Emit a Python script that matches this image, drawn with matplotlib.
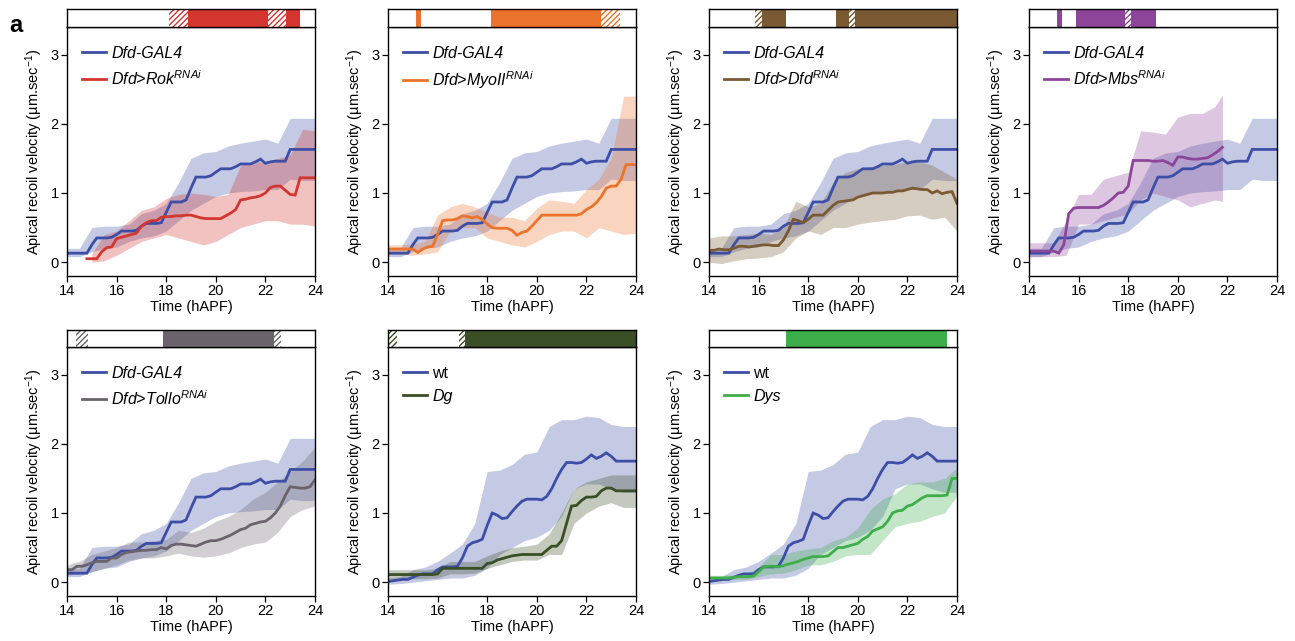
import numpy as np
import matplotlib
matplotlib.use("Agg")
import matplotlib.pyplot as plt
from matplotlib.patches import Rectangle

plt.rcParams['font.family'] = ['Liberation Sans', 'DejaVu Sans']
plt.rcParams['mathtext.fontset'] = 'custom'
plt.rcParams['mathtext.rm'] = 'Liberation Sans'
plt.rcParams['mathtext.it'] = 'Liberation Sans:italic'
plt.rcParams['hatch.linewidth'] = 1.0

# ---------------- data ----------------
# mean curves sampled every 0.2 h; bands sampled every 0.5 h
T_MEAN = np.round(np.arange(14.0, 24.01, 0.2), 1)
T_BAND = np.round(np.arange(14.0, 24.01, 0.5), 1)

ctrl_mean = [0.13, 0.13, 0.13, 0.13, 0.13, 0.25, 0.35, 0.35, 0.35, 0.36,
             0.40, 0.45, 0.45, 0.45, 0.46, 0.52, 0.56, 0.56, 0.56, 0.57,
             0.72, 0.87, 0.87, 0.87, 0.90, 1.07, 1.23, 1.23, 1.23, 1.25,
             1.30, 1.35, 1.35, 1.35, 1.38, 1.42, 1.42, 1.42, 1.45, 1.49,
             1.43, 1.45, 1.46, 1.46, 1.46, 1.63, 1.63, 1.63, 1.63, 1.63,
             1.63]
ctrl_lo = [0.08, 0.08, 0.15, 0.20, 0.22, 0.30, 0.35, 0.38, 0.45, 0.60, 0.75,
           0.85, 0.95, 1.00, 1.02, 1.03, 1.05, 1.05, 1.20, 1.18, 1.18]
ctrl_hi = [0.20, 0.20, 0.50, 0.52, 0.52, 0.55, 0.70, 0.75, 0.85, 1.15, 1.50,
           1.58, 1.60, 1.68, 1.72, 1.75, 1.78, 1.72, 2.08, 2.08, 2.08]

rok_t = np.round(np.arange(14.8, 24.01, 0.2), 1)
rok_mean = [0.05, 0.05, 0.05, 0.15, 0.21, 0.22,
            0.34, 0.36, 0.38, 0.40, 0.42, 0.52, 0.57, 0.60, 0.60, 0.65,
            0.66, 0.66, 0.67, 0.67, 0.68, 0.68, 0.66, 0.64, 0.63, 0.63,
            0.63, 0.63, 0.67, 0.71, 0.76, 0.90, 0.91, 0.93, 0.94, 0.96,
            1.00, 1.08, 1.10, 1.10, 1.04, 0.98, 0.97, 1.22, 1.22, 1.22,
            1.22]
rok_band_t = np.round(np.arange(15.0, 24.01, 0.5), 1)
rok_lo = [0.00, 0.02, 0.10, 0.20, 0.30, 0.35, 0.40, 0.35, 0.30, 0.25,
          0.30, 0.40, 0.50, 0.55, 0.60, 0.60, 0.55, 0.55, 0.52]
rok_hi = [0.12, 0.40, 0.45, 0.60, 0.75, 0.80, 0.92, 0.98, 1.00, 0.98,
          0.95, 0.98, 1.40, 1.45, 1.45, 1.50, 1.55, 1.92, 1.90]

myo_mean = [0.19, 0.19, 0.19, 0.19, 0.19, 0.19, 0.14, 0.19, 0.22, 0.23,
            0.40, 0.60, 0.61, 0.61, 0.63, 0.67, 0.66, 0.64, 0.66, 0.62,
            0.55, 0.50, 0.49, 0.49, 0.49, 0.46, 0.39, 0.43, 0.45, 0.52,
            0.60, 0.68, 0.68, 0.68, 0.68, 0.68, 0.68, 0.68, 0.68, 0.70,
            0.76, 0.80, 0.86, 0.95, 1.07, 1.10, 1.10, 1.20, 1.41, 1.41,
            1.41]
myo_lo = [0.12, 0.12, 0.10, 0.12, 0.15, 0.45, 0.50, 0.50, 0.35, 0.30, 0.25,
          0.22, 0.30, 0.40, 0.45, 0.45, 0.35, 0.50, 0.45, 0.40, 0.42]
myo_hi = [0.25, 0.25, 0.26, 0.30, 0.68, 0.80, 0.85, 0.80, 0.72, 0.65, 0.65,
          0.60, 0.78, 0.90, 0.88, 0.85, 1.05, 1.20, 1.50, 2.40, 2.40]

dfd_mean = [0.17, 0.17, 0.19, 0.18, 0.18, 0.20, 0.23, 0.23, 0.22, 0.23,
            0.24, 0.25, 0.25, 0.24, 0.24, 0.32, 0.45, 0.62, 0.60, 0.57,
            0.62, 0.68, 0.68, 0.68, 0.75, 0.82, 0.87, 0.88, 0.89, 0.90,
            0.94, 0.96, 0.98, 1.00, 1.00, 1.00, 1.01, 1.01, 1.03, 1.03,
            1.05, 1.07, 1.06, 1.05, 1.05, 1.00, 1.03, 0.99, 1.01, 1.02,
            0.85]
dfd_lo = [0.00, -0.02, 0.02, 0.05, 0.06, 0.08, 0.15, 0.35, 0.45, 0.40, 0.50,
          0.50, 0.55, 0.58, 0.60, 0.62, 0.67, 0.68, 0.62, 0.65, 0.45]
dfd_hi = [0.35, 0.38, 0.38, 0.40, 0.42, 0.40, 0.50, 0.88, 0.80, 0.85, 1.15,
          1.30, 1.35, 1.38, 1.40, 1.42, 1.45, 1.45, 1.40, 1.30, 1.20]

mbs_t = np.round(np.arange(14.0, 21.81, 0.2), 1)
mbs_mean = [0.16, 0.16, 0.16, 0.16, 0.16, 0.16, 0.13, 0.25, 0.70, 0.78,
            0.79, 0.79, 0.79, 0.79, 0.79, 0.82, 0.87, 0.93, 1.00, 1.01,
            1.10, 1.47, 1.47, 1.47, 1.47, 1.46, 1.46, 1.47, 1.44, 1.40,
            1.52, 1.52, 1.50, 1.49, 1.49, 1.50, 1.51, 1.55, 1.60, 1.66]
mbs_band_t = [14.0, 14.5, 15.0, 15.5, 16.0, 16.5, 17.0, 17.5, 18.0, 18.5,
              19.0, 19.5, 20.0, 20.5, 21.0, 21.5, 21.8]
mbs_lo = [0.08, 0.08, 0.08, 0.10, 0.55, 0.55, 0.60, 0.65, 0.70, 0.90,
          1.00, 0.95, 0.90, 0.80, 0.85, 0.90, 0.88]
mbs_hi = [0.28, 0.28, 0.28, 0.60, 0.98, 0.98, 1.20, 1.25, 1.30, 1.90,
          1.88, 1.85, 2.10, 2.15, 2.15, 2.25, 2.42]

tollo_mean = [0.18, 0.18, 0.23, 0.23, 0.25, 0.28, 0.30, 0.30, 0.30, 0.35,
              0.35, 0.40, 0.43, 0.44, 0.45, 0.46, 0.46, 0.47, 0.47, 0.50,
              0.48, 0.53, 0.55, 0.55, 0.54, 0.53, 0.52, 0.55, 0.58, 0.60,
              0.60, 0.62, 0.65, 0.68, 0.72, 0.76, 0.78, 0.83, 0.85, 0.87,
              0.88, 0.93, 1.00, 1.10, 1.25, 1.38, 1.37, 1.36, 1.36, 1.38,
              1.48]
tollo_lo = [0.10, 0.12, 0.15, 0.20, 0.25, 0.32, 0.35, 0.35, 0.38, 0.42, 0.38,
            0.36, 0.38, 0.42, 0.50, 0.55, 0.58, 0.72, 0.95, 1.05, 1.10]
tollo_hi = [0.25, 0.30, 0.40, 0.45, 0.50, 0.58, 0.58, 0.60, 0.62, 0.75, 0.72,
            0.78, 0.88, 0.95, 1.05, 1.20, 1.30, 1.45, 1.60, 1.75, 1.95]

wt_mean = [0.01, 0.02, 0.03, 0.04, 0.04, 0.07, 0.10, 0.12, 0.12, 0.12,
           0.18, 0.22, 0.22, 0.22, 0.23, 0.35, 0.52, 0.57, 0.59, 0.62,
           0.82, 1.00, 0.97, 0.92, 0.93, 1.02, 1.10, 1.17, 1.20, 1.20,
           1.20, 1.19, 1.24, 1.35, 1.50, 1.63, 1.73, 1.73, 1.72, 1.73,
           1.78, 1.84, 1.79, 1.82, 1.87, 1.82, 1.75, 1.75, 1.75, 1.75,
           1.75]
wt_lo = [-0.03, -0.02, 0.00, 0.02, 0.04, 0.06, 0.06, 0.10, 0.20, 0.40, 0.50,
         0.60, 0.65, 0.75, 0.95, 1.35, 1.42, 1.42, 1.35, 1.30, 1.30]
wt_hi = [0.06, 0.08, 0.18, 0.22, 0.30, 0.42, 0.55, 0.85, 1.60, 1.62, 1.70,
         1.85, 1.88, 2.25, 2.35, 2.35, 2.40, 2.38, 2.28, 2.25, 2.25]

dg_mean = [0.11, 0.11, 0.11, 0.11, 0.11, 0.11, 0.11, 0.11, 0.11, 0.11,
           0.12, 0.20, 0.20, 0.20, 0.20, 0.20, 0.20, 0.20, 0.20, 0.20,
           0.27, 0.28, 0.32, 0.34, 0.36, 0.38, 0.39, 0.40, 0.40, 0.40,
           0.40, 0.40, 0.46, 0.52, 0.52, 0.60, 0.85, 1.10, 1.11, 1.18,
           1.23, 1.23, 1.24, 1.32, 1.36, 1.36, 1.32, 1.32, 1.32, 1.32,
           1.32]
dg_lo = [0.04, 0.04, 0.05, 0.05, 0.06, 0.12, 0.12, 0.13, 0.20, 0.25, 0.30,
         0.32, 0.32, 0.40, 0.40, 0.85, 1.00, 1.10, 1.15, 1.08, 1.08]
dg_hi = [0.18, 0.18, 0.18, 0.18, 0.20, 0.30, 0.30, 0.30, 0.38, 0.45, 0.50,
         0.52, 0.55, 0.70, 1.00, 1.35, 1.45, 1.50, 1.55, 1.55, 1.55]

dys_mean = [0.06, 0.06, 0.06, 0.06, 0.06, 0.07, 0.08, 0.08, 0.08, 0.09,
            0.15, 0.22, 0.23, 0.23, 0.22, 0.24, 0.26, 0.28, 0.30, 0.33,
            0.35, 0.37, 0.37, 0.37, 0.38, 0.44, 0.50, 0.50, 0.52, 0.54,
            0.56, 0.62, 0.66, 0.74, 0.77, 0.80, 0.88, 1.00, 1.03, 1.04,
            1.10, 1.12, 1.17, 1.22, 1.25, 1.25, 1.25, 1.25, 1.26, 1.50,
            1.50]
dys_lo = [0.03, 0.03, 0.04, 0.04, 0.08, 0.12, 0.13, 0.18, 0.25, 0.25, 0.30,
          0.38, 0.40, 0.40, 0.60, 0.80, 0.85, 0.88, 0.95, 1.00, 1.25]
dys_hi = [0.10, 0.10, 0.10, 0.12, 0.22, 0.40, 0.40, 0.45, 0.48, 0.50, 0.60,
          0.65, 0.78, 1.05, 1.20, 1.28, 1.42, 1.45, 1.45, 1.50, 1.65]

# significance strips: (start, end, hatched)
rok_strip = [(18.12, 18.88, True), (18.88, 22.12, False), (22.12, 22.85, True), (22.85, 23.38, False)]
myo_strip = [(15.11, 15.35, False), (18.14, 22.6, False), (22.6, 23.35, True)]
dfd_strip = [(15.85, 16.14, True), (16.14, 17.12, False), (19.11, 19.63, False),
             (19.63, 19.9, True), (19.9, 24.0, False)]
mbs_strip = [(15.11, 15.35, False), (15.88, 17.86, False), (17.86, 18.13, True), (18.13, 19.11, False)]
tollo_strip = [(14.36, 14.86, True), (17.87, 22.33, False), (22.33, 22.62, True)]
dg_strip = [(14.0, 14.35, True), (16.86, 17.12, True), (17.12, 24.0, False)]
dys_strip = [(17.1, 23.6, False)]

BLUE = '#3D4EA6'

ctrl = dict(t=T_MEAN, mean=ctrl_mean, bt=T_BAND, lo=ctrl_lo, hi=ctrl_hi,
            color=BLUE, label='Dfd-GAL4', italic=True)
wt = dict(t=T_MEAN, mean=wt_mean, bt=T_BAND, lo=wt_lo, hi=wt_hi,
          color=BLUE, label='wt', italic=False)

panels = [
    (ctrl, dict(t=rok_t, mean=rok_mean, bt=rok_band_t, lo=rok_lo, hi=rok_hi,
                color='#D3362F', label='Dfd>Rok$^{RNAi}$', italic=True), rok_strip),
    (ctrl, dict(t=T_MEAN, mean=myo_mean, bt=T_BAND, lo=myo_lo, hi=myo_hi,
                color='#EC732B', label='Dfd>MyoII$^{RNAi}$', italic=True), myo_strip),
    (ctrl, dict(t=T_MEAN, mean=dfd_mean, bt=T_BAND, lo=dfd_lo, hi=dfd_hi,
                color='#7A5A33', label='Dfd>Dfd$^{RNAi}$', italic=True), dfd_strip),
    (ctrl, dict(t=mbs_t, mean=mbs_mean, bt=mbs_band_t, lo=mbs_lo, hi=mbs_hi,
                color='#8D4599', label='Dfd>Mbs$^{RNAi}$', italic=True), mbs_strip),
    (ctrl, dict(t=T_MEAN, mean=tollo_mean, bt=T_BAND, lo=tollo_lo, hi=tollo_hi,
                color='#6A636B', label='Dfd>Tollo$^{RNAi}$', italic=True), tollo_strip),
    (wt, dict(t=T_MEAN, mean=dg_mean, bt=T_BAND, lo=dg_lo, hi=dg_hi,
              color='#3A4F25', label='Dg', italic=True), dg_strip),
    (wt, dict(t=T_MEAN, mean=dys_mean, bt=T_BAND, lo=dys_lo, hi=dys_hi,
              color='#3DAE4A', label='Dys', italic=True), dys_strip),
]

# ---------------- layout ----------------
W, H = 1295, 641
fig = plt.figure(figsize=(W / 100, H / 100), dpi=100)

col_left = [67, 388, 709, 1029]
ax_w = 248
rows = [(27, 276, 9), (347, 596, 330)]  # (axes top, axes bottom, strip top) in px


def px_rect(x0, top, w, bottom):
    return [x0 / W, 1 - bottom / H, w / W, (bottom - top) / H]


for i, (base, test, strip) in enumerate(panels):
    r, c = divmod(i, 4)
    top, bottom, stop = rows[r]
    ax = fig.add_axes(px_rect(col_left[c], top, ax_w, bottom))
    sax = fig.add_axes(px_rect(col_left[c], stop, ax_w, top))

    for s in (base, test):
        ax.fill_between(s['bt'], s['lo'], s['hi'], color=s['color'],
                        alpha=0.3, linewidth=0)
    for s in (base, test):
        ax.plot(s['t'], s['mean'], color=s['color'], lw=2.0,
                label=s['label'], solid_joinstyle='miter')

    ax.set_xlim(14, 24)
    ax.set_ylim(-0.2, 3.4)
    ax.set_xticks([14, 16, 18, 20, 22, 24])
    ax.set_yticks([0, 1, 2, 3])
    ax.tick_params(direction='out', length=4, width=0.9, labelsize=10.5, pad=2)
    for sp in ax.spines.values():
        sp.set_linewidth(1.0)
    ax.set_xlabel('Time (hAPF)', fontsize=10.5, labelpad=1)
    ax.set_ylabel('Apical recoil velocity (µm.sec$^{-1}$)', fontsize=10.5, labelpad=4)

    leg = ax.legend(loc='upper left', bbox_to_anchor=(0.02, 0.962), frameon=False,
                    fontsize=11.5, handlelength=1.55, handletextpad=0.3,
                    labelspacing=0.5, borderaxespad=0.2)
    for txt, s in zip(leg.get_texts(), (base, test)):
        txt.set_fontstyle('italic' if s['italic'] else 'normal')

    # strip above the axes
    sax.set_xlim(14, 24)
    sax.set_ylim(0, 1)
    sax.set_xticks([])
    sax.set_yticks([])
    for sp in sax.spines.values():
        sp.set_linewidth(1.0)
    col = test['color']
    for (x0, x1, hatched) in strip:
        if hatched:
            sax.add_patch(Rectangle((x0, 0), x1 - x0, 1, facecolor='white',
                                    edgecolor=col, hatch='//////', linewidth=0))
        else:
            sax.add_patch(Rectangle((x0, 0), x1 - x0, 1, facecolor=col,
                                    edgecolor='none', linewidth=0))

fig.text(9 / W, 1 - 32 / H, 'a', fontsize=17, fontweight='bold',
         va='baseline', ha='left')

fig.savefig('out.png', dpi=100)
